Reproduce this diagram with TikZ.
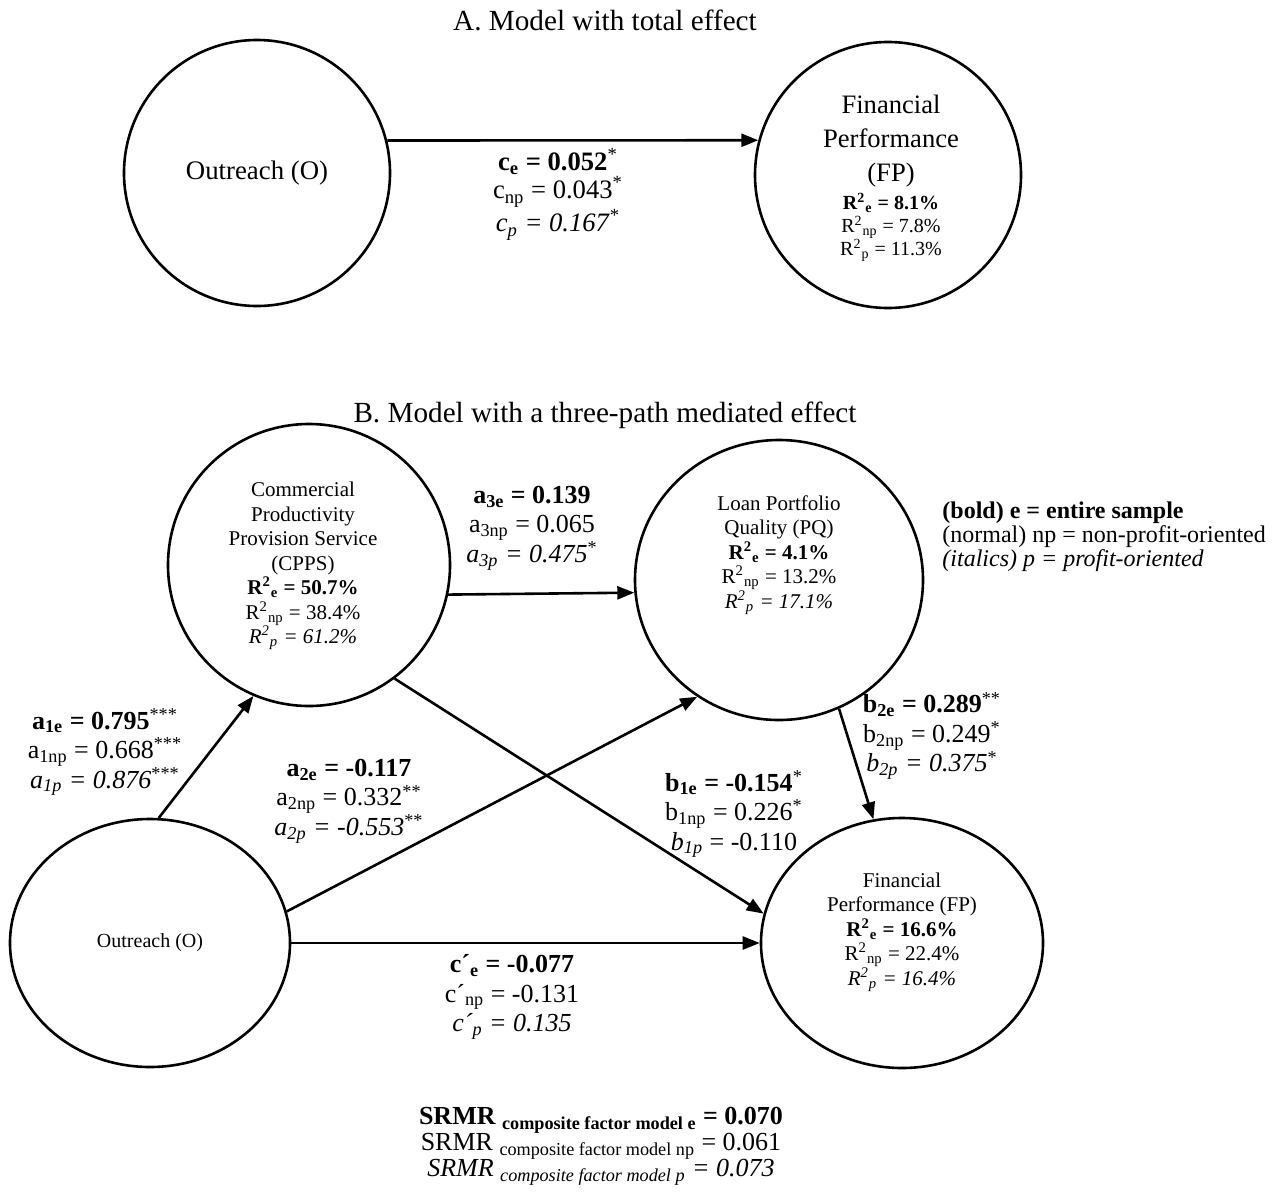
\documentclass[tikz,border=0pt]{standalone}
\usepackage{fontspec}
\setmainfont{Liberation Serif}
\usetikzlibrary{arrows.meta,shapes.geometric}
\tikzset{
    latent-var/.style 2 args = {draw, ellipse, line width=1.3pt, inner sep=0pt, minimum width=#1, minimum height=#2},
    path-arrow/.style = {line width=1.3pt, -{Triangle[length=8.5pt, width=6.5pt]}},
    path-label/.style = {align=center, inner sep=0pt, font=\fontsize{13}{14.75}\selectfont},
    var-text/.style = {align=center, inner sep=0pt, font=\fontsize{10.5}{12.25}\selectfont},
    model-title/.style = {inner sep=0pt, font=\fontsize{14.6}{17}\selectfont},
}

\begin{document}
\begin{tikzpicture}[x=0.5pt, y=-0.5pt]
\useasboundingbox (0,0) rectangle (1283,1194);

% A. total effect
\node[model-title] (title-a) at (605,20) {A. Model with total effect};
\node[latent-var={133pt}{133pt}, font=\fontsize{13.4}{16}\selectfont] (O1) at (257,173) {Outreach (O)};
\node[latent-var={133pt}{133pt}] (FP1) at (888,175) {};
\node[var-text, font=\fontsize{13.3}{17}\selectfont] (FP1-name) at (891,141) {Financial\\ Performance\\ (FP)};
\node[var-text, font=\fontsize{10}{11.5}\selectfont] (FP1-r2) at (891,227) {\textbf{R\textsuperscript{2}\textsubscript{e} = 8.1\%}\\ R\textsuperscript{2}\textsubscript{np} = 7.8\%\\ R\textsuperscript{2}\textsubscript{p} = 11.3\%};
\draw[path-arrow] (O1.14) -- (FP1.165);
\node[path-label, font=\fontsize{13.3}{14.25}\selectfont] (c-label) at (558,194) {\textbf{c\textsubscript{e} = 0.052}\textsuperscript{*}\\ c\textsubscript{np} = 0.043\textsuperscript{*}\\ \textit{c\textsubscript{p} = 0.167}\textsuperscript{*}};

% B. three-path mediated effect
\node[model-title] (title-b) at (605,415) {B. Model with a three-path mediated effect};
\node[latent-var={141pt}{141pt}] (CPPS) at (309,565) {};
\node[var-text] (CPPS-text) at (303,566) {Commercial\\ Productivity\\ Provision Service\\ (CPPS)\\ \textbf{R\textsuperscript{2}\textsubscript{e} = 50.7\%}\\ R\textsuperscript{2}\textsubscript{np} = 38.4\%\\ \textit{R\textsuperscript{2}\textsubscript{p} = 61.2\%}};
\node[latent-var={144pt}{140pt}] (PQ) at (779,580) {};
\node[var-text] (PQ-text) at (779,555) {Loan Portfolio\\ Quality (PQ)\\ \textbf{R\textsuperscript{2}\textsubscript{e} = 4.1\%}\\ R\textsuperscript{2}\textsubscript{np} = 13.2\%\\ \textit{R\textsuperscript{2}\textsubscript{p} = 17.1\%}};
\node[latent-var={140pt}{124pt}, font=\fontsize{10}{12}\selectfont] (O2) at (150,943) {Outreach (O)};
\node[latent-var={141pt}{125pt}] (FP2) at (902,943) {};
\node[var-text] (FP2-text) at (902,932) {Financial\\ Performance (FP)\\ \textbf{R\textsuperscript{2}\textsubscript{e} = 16.6\%}\\ R\textsuperscript{2}\textsubscript{np} = 22.4\%\\ \textit{R\textsuperscript{2}\textsubscript{p} = 16.4\%}};

\draw[path-arrow] (O2.86) -- (CPPS.247);
\draw[path-arrow] (CPPS.348.5) -- (PQ.185);
\draw[path-arrow] (CPPS.307) -- (FP2.168);
\draw[path-arrow] (O2.13) -- (PQ.235);
\draw[path-arrow] (O2.east) -- (FP2.west);
\draw[path-arrow] (PQ.295) -- (FP2.103);

\node[path-label] (a1-label) at (105,752) {\textbf{a\textsubscript{1e} = 0.795}\textsuperscript{***}\\ a\textsubscript{1np} = 0.668\textsuperscript{***}\\ \textit{a\textsubscript{1p} = 0.876}\textsuperscript{***}};
\node[path-label] (a2-label) at (349,801) {\textbf{a\textsubscript{2e} = -0.117}\\ a\textsubscript{2np} = 0.332\textsuperscript{**}\\ \textit{a\textsubscript{2p} = -0.553}\textsuperscript{**}};
\node[path-label] (a3-label) at (532,528) {\textbf{a\textsubscript{3e} = 0.139}\\ a\textsubscript{3np} = 0.065\\ \textit{a\textsubscript{3p} = 0.475}\textsuperscript{*}};
\node[path-label] (b1-label) at (734,814) {\textbf{b\textsubscript{1e} = -0.154}\textsuperscript{*}\\ b\textsubscript{1np} = 0.226\textsuperscript{*}\\ \textit{b\textsubscript{1p}} = -0.110};
\node[path-label] (b2-label) at (932,736) {\textbf{b\textsubscript{2e} = 0.289}\textsuperscript{**}\\ b\textsubscript{2np} = 0.249\textsuperscript{*}\\ \textit{b\textsubscript{2p} = 0.375}\textsuperscript{*}};
\node[path-label] (cd-label) at (512,997) {\textbf{c´\textsubscript{e} = -0.077}\\ c´\textsubscript{np} = -0.131\\ \textit{c´\textsubscript{p} = 0.135}};

\node[align=left, anchor=west, inner sep=0pt, font=\fontsize{12}{10.75}\selectfont] (legend) at (942,537) {\textbf{(bold) e = entire sample}\\ (normal) np = non-profit-oriented\\ \textit{(italics) p = profit-oriented}};
\node[path-label, font=\fontsize{13}{13}\selectfont] (srmr) at (601,1146) {\textbf{SRMR \textsubscript{composite factor model e} = 0.070}\\ SRMR \textsubscript{composite factor model np} = 0.061\\ \textit{SRMR \textsubscript{composite factor model p} = 0.073}};
\end{tikzpicture}
\end{document}
